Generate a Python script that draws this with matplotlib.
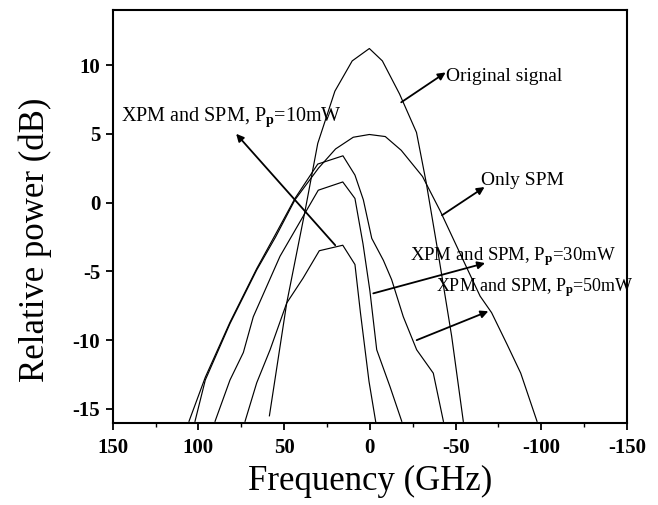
import matplotlib
matplotlib.use("Agg")
import matplotlib.pyplot as plt
from matplotlib.ticker import MultipleLocator

plt.rcParams['font.family'] = ['Liberation Serif', 'DejaVu Serif']
plt.rcParams['mathtext.fontset'] = 'custom'
plt.rcParams['mathtext.rm'] = 'Liberation Serif'
plt.rcParams['mathtext.bf'] = 'Liberation Serif:bold'
plt.rcParams['mathtext.default'] = 'regular'
plt.rcParams['axes.unicode_minus'] = False

# ---- data (frequency in GHz, relative power in dB) ----
orig_f = [58.6, 48.5, 37.8, 30.4, 20.4, 10.3, 0.3, -7.3, -17.3, -27.2, -32.8, -40.0, -47.7, -54.5]
orig_db = [-15.5, -7.3, -0.6, 4.3, 8.1, 10.3, 11.2, 10.3, 7.9, 5.1, 1.5, -3.8, -9.7, -15.9]

spm_f = [102, 96, 81.6, 66, 55, 43.7, 30, 20, 9.7, 0.3, -9, -18.3, -30.7, -41, -54.5, -64.3, -71, -80, -88, -97.5]
spm_db = [-15.9, -12.9, -8.8, -4.9, -2.5, 0.2, 2.5, 3.9, 4.75, 4.95, 4.8, 3.8, 1.9, -0.6, -4.2, -6.8, -8.0, -10.3, -12.4, -15.9]

c_f = [105.5, 96, 81.6, 66, 55, 43.7, 30.4, 15.7, 8.7, 3.8, -1.1, -7.9, -12.7, -19.5, -27.3, -37, -42.9]
c_db = [-15.9, -12.7, -8.7, -4.8, -2.3, 0.3, 2.8, 3.4, 2.0, 0.2, -2.6, -4.2, -5.6, -8.3, -10.7, -12.4, -15.9]

b_f = [90.3, 81.6, 73.8, 68, 52.4, 30.1, 15.8, 8.7, 4, 0, -4, -11.8, -18.6]
b_db = [-15.9, -12.9, -10.9, -8.3, -3.9, 0.9, 1.5, 0.3, -3.0, -6.4, -10.7, -13.4, -15.9]

a_f = [72.8, 66, 58.2, 48.5, 39, 29.5, 15.8, 8.7, 5.5, 0.5, -3.5]
a_db = [-15.9, -13.1, -10.7, -7.3, -5.5, -3.5, -3.1, -4.5, -8.0, -13.0, -16.0]

xticks = [150, 100, 50, 0, -50, -100, -150]
yticks = [-15, -10, -5, 0, 5, 10]

lbl_orig = "Original signal"
lbl_spm = "Only SPM"
lbl_10 = "XPM and SPM, P$_\\mathbf{p}$=10mW"
lbl_30 = "XPM and SPM, P$_\\mathbf{p}$=30mW"
lbl_50 = "XPM and SPM, P$_\\mathbf{p}$=50mW"

fig = plt.figure(figsize=(6.58, 5.05), dpi=100)
ax = fig.add_axes([0.1713, 0.163, 0.7816, 0.8172])

for f, d in [(orig_f, orig_db), (spm_f, spm_db), (c_f, c_db), (b_f, b_db), (a_f, a_db)]:
    ax.plot(f, d, color='black', lw=0.85)

ax.set_xlim(150, -150)
ax.set_ylim(-16, 14)
ax.set_xticks(xticks)
ax.set_yticks(yticks)
ax.xaxis.set_minor_locator(MultipleLocator(25))
ax.tick_params(axis='both', which='major', direction='out', length=5, width=1.3,
               labelsize=15, pad=4)
ax.tick_params(axis='x', which='minor', direction='out', length=3, width=1.0)
ax.tick_params(axis='x', which='major', pad=6)
for lab in ax.get_xticklabels() + ax.get_yticklabels():
    lab.set_fontweight('bold')
for s in ax.spines.values():
    s.set_linewidth(1.5)

aprops = dict(arrowstyle='-|>', lw=1.3, color='black', mutation_scale=11, shrinkA=0, shrinkB=0)
fs = 13.5
ax.annotate("", xy=(-44.2, 9.46), xytext=(-18.3, 7.29), arrowprops=aprops)
ax.text(-44.5, 9.2, lbl_orig, fontsize=fs + 0.5, va='center', ha='left')

ax.annotate("", xy=(-66.9, 1.13), xytext=(-42.1, -0.92), arrowprops=aprops)
ax.text(-64.8, 1.6, lbl_spm, fontsize=fs + 0.5, va='center', ha='left')

ax.annotate("", xy=(78, 5.0), xytext=(20.2, -3.1), arrowprops=aprops)
ax.text(145.2, 6.2, lbl_10, fontsize=14.5, va='center', ha='left')

ax.annotate("", xy=(-67.2, -4.4), xytext=(-2, -6.6), arrowprops=aprops)
ax.text(-23.4, -3.9, lbl_30, fontsize=fs, va='center', ha='left')

ax.annotate("", xy=(-69.1, -7.9), xytext=(-27.3, -10.0), arrowprops=aprops)
ax.text(-38.5, -6.2, lbl_50, fontsize=fs - 0.5, va='center', ha='left')

fig.text(370 / 658, 1 - 481 / 505, "Frequency (GHz)", fontsize=25, ha='center', va='center')
fig.text(35 / 658, 1 - 240 / 505, "Relative power (dB)", fontsize=25, ha='center', va='center',
         rotation=90)

fig.savefig("out.png", dpi=100)
